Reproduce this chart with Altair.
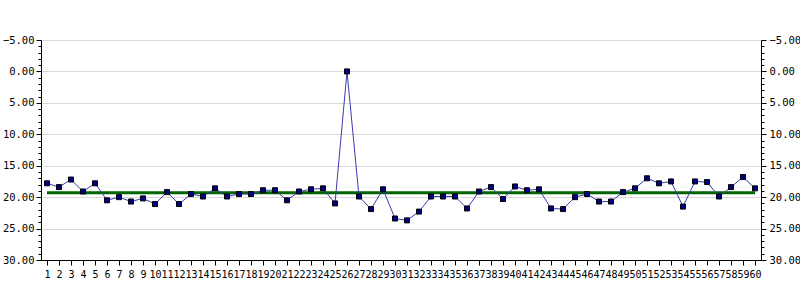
import altair as alt
import pandas as pd

categories = [str(i) for i in range(1, 61)]
values = [17.8, 18.4, 17.2, 19.1, 17.8, 20.5, 20.0, 20.7, 20.2, 21.1,
          19.2, 21.1, 19.5, 19.9, 18.6, 19.9, 19.5, 19.5, 18.9, 18.9,
          20.5, 19.1, 18.75, 18.6, 21.0, 0.0, 19.9, 21.9, 18.75, 23.4,
          23.7, 22.3, 19.9, 19.9, 19.9, 21.8, 19.1, 18.4, 20.3, 18.3,
          18.9, 18.75, 21.8, 21.9, 20.0, 19.5, 20.7, 20.7, 19.2, 18.6,
          17.0, 17.8, 17.5, 21.5, 17.5, 17.6, 19.9, 18.4, 16.8, 18.6]
target = 19.3
y_ticks = list(range(-5, 31))

df = pd.DataFrame({"cat": categories, "val": values})
ref = pd.DataFrame({"cat": [categories[0], categories[-1]], "val": [target, target]})

FONT = "DejaVu Sans Mono"
major = "datum.value % 5 == 0"

x_enc = alt.X(
    "cat:O", sort=categories, title=None,
    scale=alt.Scale(type="point", padding=0.5),
    axis=alt.Axis(labelAngle=0, labelOverlap=False, tickSize=5, labelPadding=4,
                  domainColor="black", tickColor="black", labelColor="black",
                  labelFont=FONT, labelFontSize=10, grid=False),
)
yscale = alt.Scale(domain=[-5, 30], reverse=True, nice=False, zero=False)


def y_axis(orient, grid, pad):
    return alt.Axis(
        orient=orient, values=y_ticks, title=None,
        labelExpr="datum.value % 5 == 0 ? format(datum.value, '.2f') : ''",
        labelOverlap=False, labelFlush=False,
        tickSize={"condition": {"test": major, "value": 5}, "value": 3},
        grid=grid,
        gridColor={"condition": {"test": major + " && datum.value > -5 && datum.value < 30",
                                 "value": "#d9d9d9"}, "value": "transparent"},
        domainColor="black", tickColor="black", labelColor="black",
        labelFont=FONT, labelFontSize=10.5, labelPadding=pad,
    )


green = alt.Chart(ref).mark_line(color="#006400", strokeWidth=3).encode(
    x=x_enc,
    y=alt.Y("val:Q", scale=yscale, axis=y_axis("left", True, 2)),
)
line = alt.Chart(df).mark_line(color="#3a3ab0", strokeWidth=1).encode(
    x=x_enc,
    y=alt.Y("val:Q", scale=yscale, axis=None),
)
pts = alt.Chart(df).mark_square(size=25, fill="#000080", stroke="black",
                                strokeWidth=1, opacity=1).encode(
    x=x_enc,
    y=alt.Y("val:Q", scale=yscale, axis=y_axis("right", False, 3)),
)

chart = alt.layer(green, line, pts).resolve_axis(y="independent").properties(
    width=720, height=220,
    autosize=alt.AutoSizeParams(type="none"),
    padding={"left": 41, "top": 40, "right": 39, "bottom": 40},
).configure_view(stroke="black", strokeWidth=1).configure(background="white")

chart.save("out.html", embed_options={"renderer": "svg", "actions": False})
